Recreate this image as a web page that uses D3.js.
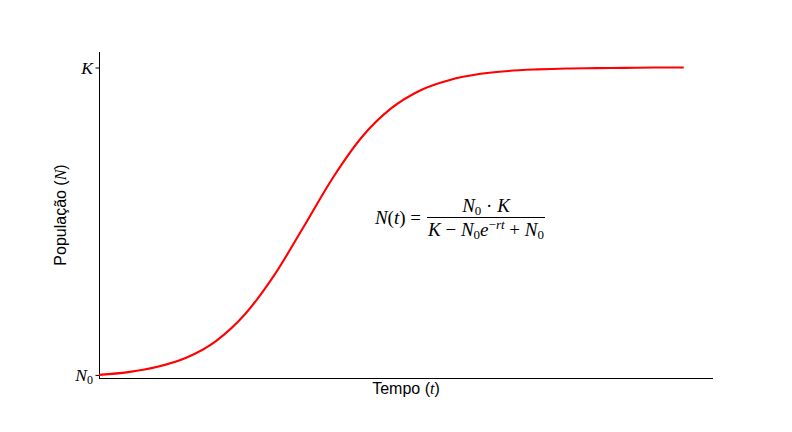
<!DOCTYPE html>
<html><head><meta charset="utf-8">
<script src="https://cdn.jsdelivr.net/npm/d3@7"></script>
<style>
body{margin:0;background:#fff;}
svg{display:block;}
.math{font-family:"Liberation Serif","DejaVu Serif",serif;font-style:italic;}
.up{font-style:normal;}
</style></head>
<body>
<script>
// Data
const tempo = [0,1,2,3,4,5,6,7,8,9,10,11,12,13,14,15,16,17,18,19,20];
const populacao = [10,19,36,66,119,206,332,487,645,777,869,927,960,979,989,994,997,998,999,1000,1000];
const N0 = 10, K = 1000;
const yTickValues = [N0, K];
const yTickLabels = ["N0", "K"];

const W = 792, H = 432;
const svg = d3.select("body").append("svg").attr("width", W).attr("height", H);

const x = d3.scaleLinear().domain([0, 21]).range([99, 713]);
const y = d3.scaleLinear().domain([0, 1050]).range([378, 52]);

// spines
svg.append("line").attr("x1", x(0)).attr("x2", x(0)).attr("y1", y(1050)).attr("y2", y(0))
  .attr("stroke", "#000").attr("stroke-width", 1).attr("shape-rendering","crispEdges");
svg.append("line").attr("x1", x(0)).attr("x2", x(21)).attr("y1", y(0)).attr("y2", y(0))
  .attr("stroke", "#000").attr("stroke-width", 1).attr("shape-rendering","crispEdges");

// y ticks
const yAxis = d3.axisLeft(y).tickValues(yTickValues).tickSize(3.5).tickFormat("");
const gy = svg.append("g").attr("transform", `translate(${x(0)},0)`).call(yAxis);
gy.select(".domain").remove();
gy.selectAll(".tick line").attr("stroke", "#000");

yTickValues.forEach((v, i) => {
  const lab = yTickLabels[i];
  const t = svg.append("text").attr("class", "math")
    .attr("x", x(0) - 6).attr("y", y(v) + 6)
    .attr("text-anchor", "end").attr("font-size", 17.5).attr("fill", "#000");
  if (lab === "N0") {
    t.append("tspan").text("N");
    t.append("tspan").attr("class", "up").attr("font-size", 12).attr("dy", 3).text("0");
  } else {
    t.text(lab);
  }
});

// curve
const line = d3.line().x((d, i) => x(tempo[i])).y(d => y(d)).curve(d3.curveMonotoneX);
svg.append("path").datum(populacao).attr("d", line)
  .attr("fill", "none").attr("stroke", "#ff0000").attr("stroke-width", 2.1);

// axis labels
const xl = svg.append("text").attr("x", (x(0) + x(21)) / 2).attr("y", 394)
  .attr("text-anchor", "middle").attr("font-family", "Liberation Sans, Arial, sans-serif")
  .attr("font-size", 16).attr("fill", "#000");
xl.append("tspan").text("Tempo (");
xl.append("tspan").attr("font-family","Liberation Serif, serif").attr("font-style","italic").text("t");
xl.append("tspan").text(")");

const yl = svg.append("text").attr("transform", `translate(66,${(y(0) + y(1050)) / 2}) rotate(-90)`)
  .attr("text-anchor", "middle").attr("font-family", "Liberation Sans, Arial, sans-serif")
  .attr("font-size", 16).attr("fill", "#000");
yl.append("tspan").text("População (");
yl.append("tspan").attr("font-family","Liberation Serif, serif").attr("font-style","italic").text("N");
yl.append("tspan").text(")");

// formula
const fs = 19;
const sub = 13;
const f = svg.append("g").attr("class", "math").attr("font-size", fs).attr("fill", "#000");
const lhs = f.append("text").attr("x", 421).attr("y", 223.5).attr("text-anchor", "end");
lhs.append("tspan").text("N");
lhs.append("tspan").attr("class", "up").text("(");
lhs.append("tspan").text("t");
lhs.append("tspan").attr("class", "up").text(") =");

f.append("line").attr("x1", 427).attr("x2", 545).attr("y1", 217.5).attr("y2", 217.5)
  .attr("stroke", "#000").attr("stroke-width", 1);

const num = f.append("text").attr("x", 486).attr("y", 212).attr("text-anchor", "middle");
num.append("tspan").text("N");
num.append("tspan").attr("class", "up").attr("font-size", sub).attr("dy", 3).text("0");
num.append("tspan").attr("class", "up").attr("dy", -3).text(" · ");
num.append("tspan").text("K");

const den = f.append("text").attr("x", 486).attr("y", 235.5).attr("text-anchor", "middle");
den.append("tspan").text("K");
den.append("tspan").attr("class", "up").text(" − ");
den.append("tspan").text("N");
den.append("tspan").attr("class", "up").attr("font-size", sub).attr("dy", 3).text("0");
den.append("tspan").attr("dy", -3).text("e");
den.append("tspan").attr("class", "up").attr("font-size", sub).attr("dy", -7).text("−");
den.append("tspan").attr("font-size", sub).text("rt");
den.append("tspan").attr("class", "up").attr("dy", 7).text(" + ");
den.append("tspan").text("N");
den.append("tspan").attr("class", "up").attr("font-size", sub).attr("dy", 3).text("0");
</script>
</body></html>
